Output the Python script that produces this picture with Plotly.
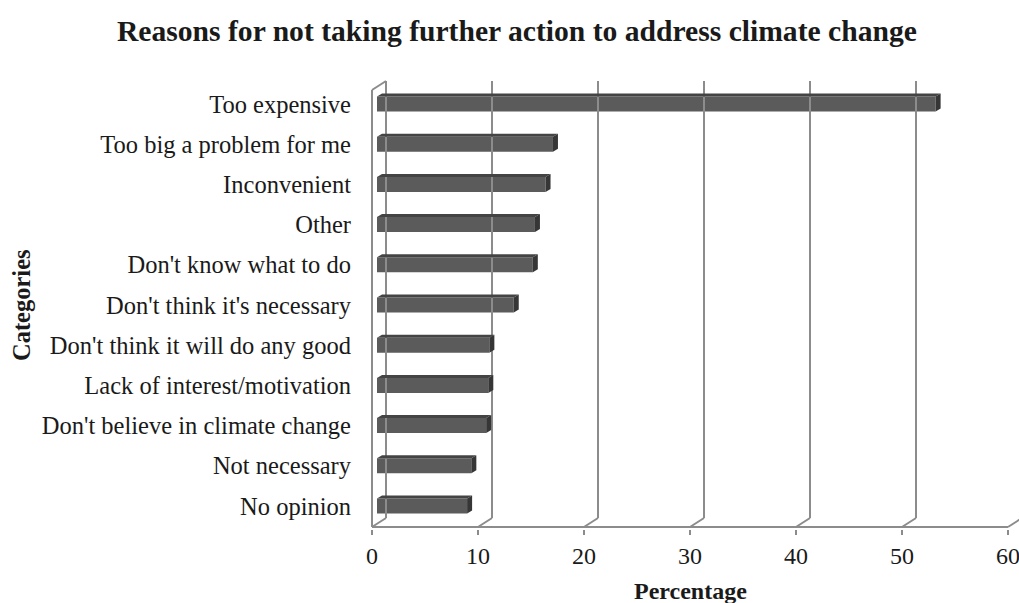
import plotly.graph_objects as go

# data (top to bottom as shown)
categories = ["Too expensive", "Too big a problem for me", "Inconvenient", "Other",
              "Don't know what to do", "Don't think it's necessary",
              "Don't think it will do any good", "Lack of interest/motivation",
              "Don't believe in climate change", "Not necessary", "No opinion"]
percentages = [52.7, 16.6, 15.9, 14.9, 14.7, 12.9, 10.6, 10.5, 10.3, 8.9, 8.5]
x_ticks = [0, 10, 20, 30, 40, 50, 60]

# pseudo-3d geometry (in axis units)
PX_X = 10.6          # pixels per percentage point
PX_Y = 40.2          # pixels per category row
DX = 14 / PX_X       # wall depth, horizontal
DY = 9 / PX_Y        # wall depth, vertical
floor_y = -0.522
top_y = 10.572
bar_x0 = 5 / PX_X
bar_h = 15 / PX_Y
bar_dx = 5 / PX_X
bar_dy = 3 / PX_Y

n = len(categories)
rows = [n - 1 - i for i in range(n)]

grid_col = "#8c8c8c"
front_col = "#5b5b5b"
top_col = "#444444"
side_col = "#363636"
font = "Liberation Serif"

fig = go.Figure()

def line(xs, ys):
    fig.add_trace(go.Scatter(x=xs, y=ys, mode="lines", hoverinfo="skip",
                             line=dict(color=grid_col, width=2), showlegend=False))

# back wall gridlines + floor diagonals
for t in x_ticks:
    if t > 0:
        line([t + DX, t + DX], [floor_y + DY, top_y])
    line([t, t + DX], [floor_y, floor_y + DY])
# left wall
line([0, 0], [floor_y, top_y - DY])
line([0, DX], [top_y - DY, top_y])
line([DX, DX], [floor_y + DY, top_y])
# floor front edge
line([0, x_ticks[-1]], [floor_y, floor_y])

# bar front faces
fig.add_trace(go.Bar(x=percentages, y=rows, base=bar_x0, orientation="h",
                     width=bar_h, marker=dict(color=front_col, line=dict(width=0)),
                     showlegend=False, hovertemplate="%{x}<extra></extra>"))

# bar top and side faces
for v, r in zip(percentages, rows):
    x1 = bar_x0 + v
    yt = r + bar_h / 2
    yb = r - bar_h / 2
    fig.add_trace(go.Scatter(
        x=[bar_x0, x1, x1 + bar_dx, bar_x0 + bar_dx, bar_x0],
        y=[yt, yt, yt + bar_dy, yt + bar_dy, yt],
        mode="lines", fill="toself", fillcolor=top_col, line=dict(width=0),
        hoverinfo="skip", showlegend=False))
    fig.add_trace(go.Scatter(
        x=[x1, x1 + bar_dx, x1 + bar_dx, x1, x1],
        y=[yt, yt + bar_dy, yb + bar_dy, yb, yt],
        mode="lines", fill="toself", fillcolor=side_col, line=dict(width=0),
        hoverinfo="skip", showlegend=False))

# page pixels (body margin removed below)
W, H = 1019, 603
left, right, top, bottom = 365, 1019, 70, 529
fig.update_layout(
    width=W, height=H,
    margin=dict(l=left, r=W - right, t=top, b=H - bottom, autoexpand=False),
    paper_bgcolor="white", plot_bgcolor="white",
    font=dict(family=font, size=22, color="#1a1a1a"),
    xaxis=dict(range=[(left - 372) / PX_X, (right - 372) / PX_X],
               tickvals=x_ticks, ticks="outside", ticklen=5, tickwidth=2,
               tickcolor=grid_col, showgrid=False, zeroline=False, showline=False,
               automargin=False, ticklabeloverflow="allow", tickfont=dict(size=24)),
    yaxis=dict(range=[floor_y - (bottom - 527) / PX_Y, 10 + (104 - top) / PX_Y],
               tickvals=rows, ticktext=categories, ticks="", showgrid=False,
               zeroline=False, showline=False, ticklabelstandoff=13,
               automargin=False, tickfont=dict(size=24.5)),
)

# titles placed by page pixel position
def pixel_note(text, px, py, size, angle=0):
    fig.add_annotation(text=text, xref="paper", yref="paper",
                       x=(px - left) / (right - left), y=(bottom - py) / (bottom - top),
                       xanchor="center", yanchor="middle", showarrow=False,
                       textangle=angle, font=dict(size=size, color="#1a1a1a"))

pixel_note("<b>Reasons for not taking further action to address climate change</b>", 517, 31, 29.6)
pixel_note("<b>Percentage</b>", 690, 591, 24)
pixel_note("<b>Categories</b>", 21, 305, 24.5, angle=-90)

fig.write_html("out.html", config={"displayModeBar": False},
               post_script="document.body.style.margin='0';document.body.style.overflow='hidden';")
